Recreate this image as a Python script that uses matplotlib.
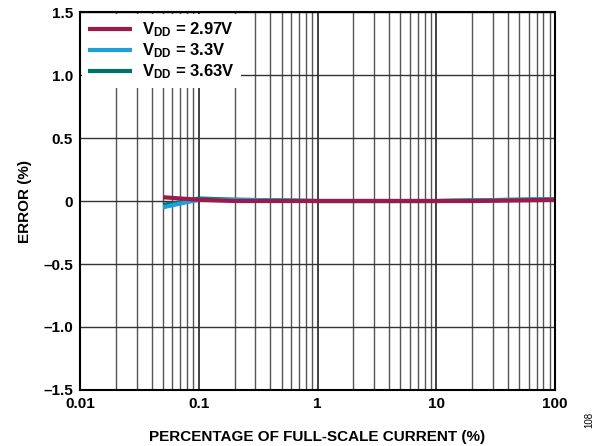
import numpy as np
import matplotlib.pyplot as plt
from matplotlib.ticker import FixedLocator, LogLocator, NullFormatter

plt.rcParams['font.family'] = ['Liberation Sans', 'DejaVu Sans']
plt.rcParams['font.weight'] = 'bold'
plt.rcParams['mathtext.fontset'] = 'custom'
plt.rcParams['mathtext.rm'] = 'Liberation Sans:bold'
plt.rcParams['mathtext.bf'] = 'Liberation Sans:bold'
plt.rcParams['mathtext.it'] = 'Liberation Sans:bold'

# percentage of full-scale current (%)
current = [0.05, 0.07, 0.1, 0.2, 0.5, 1, 2, 5, 10, 20, 50, 100]
err_297 = [0.03, 0.02, 0.01, 0.0, 0.0, 0.0, 0.0, 0.0, 0.0, 0.0, 0.005, 0.01]
err_33 = [-0.05, -0.02, 0.01, 0.01, 0.005, 0.0, 0.0, 0.0, 0.0, 0.005, 0.01, 0.015]
err_363 = [-0.03, -0.01, 0.02, 0.01, 0.005, 0.0, 0.0, 0.0, 0.0, 0.005, 0.01, 0.015]

labels = ['$\\mathbf{V_{DD}}$ = 2.97V', '$\\mathbf{V_{DD}}$ = 3.3V', '$\\mathbf{V_{DD}}$ = 3.63V']
colors = ['#9c1a4a', '#1ea0d6', '#00726c']

fig = plt.figure(figsize=(6.09, 4.46), dpi=100)
ax = fig.add_axes([0.1314, 0.1256, 0.7799, 0.8474])

ax.set_xscale('log')
ax.set_xlim(0.01, 100)
ax.set_ylim(-1.5, 1.5)

ax.xaxis.set_major_locator(FixedLocator([0.01, 0.1, 1, 10, 100]))
ax.xaxis.set_minor_locator(LogLocator(base=10, subs=np.arange(2, 10)))
ax.xaxis.set_minor_formatter(NullFormatter())
ax.set_xticklabels(['0.01', '0.1', '1', '10', '100'])
yt = [-1.5, -1.0, -0.5, 0, 0.5, 1.0, 1.5]
ax.set_yticks(yt)
ax.set_yticklabels(['\u20131.5', '\u20131.0', '\u20130.5', '0', '0.5', '1.0', '1.5'])

ax.grid(True, which='major', axis='x', color='#333333', lw=1.3)
ax.grid(True, which='minor', axis='x', color='#555555', lw=1.0)
ax.grid(True, which='major', axis='y', color='#333333', lw=1.0)
ax.set_axisbelow(True)
ax.tick_params(which='both', length=0, labelsize=11, pad=5)
for s in ax.spines.values():
    s.set_linewidth(1.5)
    s.set_color('black')

for y, lab, c in zip([err_363, err_33, err_297], labels[::-1], colors[::-1]):
    ax.plot(current, y, color=c, lw=3, label=lab, solid_capstyle='butt')

h, l = ax.get_legend_handles_labels()
leg = ax.legend(h[::-1], l[::-1], loc='upper left', frameon=True, fancybox=False,
                edgecolor='none', facecolor='white', framealpha=1,
                fontsize=12, handlelength=2.6, handletextpad=0.6, borderaxespad=0.1,
                labelspacing=0.15, borderpad=0.4)
for t in leg.get_texts():
    t.set_fontweight('bold')
for ln in leg.get_lines():
    ln.set_linewidth(3)

ax.set_xlabel('PERCENTAGE OF FULL-SCALE CURRENT (%)', fontsize=11, fontweight='bold', labelpad=14)
ax.set_ylabel('ERROR (%)', fontsize=11, fontweight='bold', labelpad=8)
fig.text(0.968, 0.04, '108', rotation=90, fontsize=7, fontweight='normal', ha='center', va='bottom')

fig.savefig('out.png', dpi=100)
